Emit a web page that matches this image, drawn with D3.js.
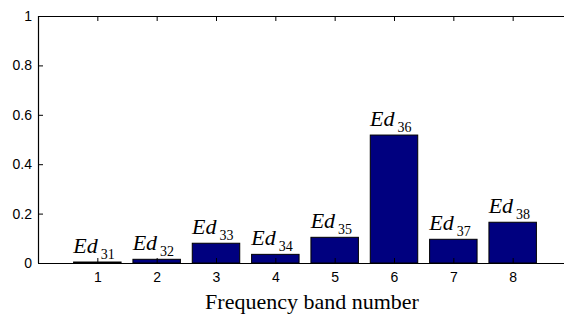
<!DOCTYPE html>
<html lang="en">
<head>
<meta charset="UTF-8">
<title>Frequency band energy</title>
<script src="https://d3js.org/d3.v7.min.js"></script>
<style>
    body{ margin:0; background:#fff; }
    svg{ display:block; }
</style>
</head>
<body>
<svg id="chart" width="564" height="323"></svg>
<script>
    // data
    let bands = [1, 2, 3, 4, 5, 6, 7, 8]
    let energy = [0.004, 0.015, 0.080, 0.035, 0.104, 0.518, 0.096, 0.165]
    let subs = ["31", "32", "33", "34", "35", "36", "37", "38"]
    let yTicks = [0, 0.2, 0.4, 0.6, 0.8, 1]
    let yTickLabels = ["0", "0.2", "0.4", "0.6", "0.8", "1"]

    let sansFont = "'Liberation Sans', Arial, Helvetica, sans-serif"
    let serifFont = "'Liberation Serif', 'Times New Roman', Times, serif"

    let svg = d3.select("#chart")
    let mLeft = 38, mRight = 572, mTop = 16, mBottom = 263

    let x = d3.scaleLinear().domain([0, 9]).range([mLeft, mRight])
    let y = d3.scaleLinear().domain([0, 1]).range([mBottom, mTop])
    let bw = 0.8 * (x(1) - x(0))

    // bars
    svg.selectAll(".bar")
        .data(bands)
        .enter()
        .append("rect")
        .attr("class", "bar")
        .attr("x", function (d){ return x(d) - bw / 2 })
        .attr("y", function (d, i){ return y(energy[i]) })
        .attr("width", bw)
        .attr("height", function (d, i){ return y(0) - y(energy[i]) })
        .attr("fill", "#00007f")
        .attr("stroke", "#000")
        .attr("stroke-width", 1)

    // axes, matlab style ticks pointing inward
    let xAxis = d3.axisBottom(x).tickValues(bands).tickSize(-5).tickPadding(9)
    let yAxis = d3.axisLeft(y).tickValues(yTicks).tickSize(-5).tickPadding(6)
        .tickFormat(function (d, i){ return yTickLabels[i] })

    let gx = svg.append("g").attr("transform", `translate(0,${mBottom})`).call(xAxis)
    let gy = svg.append("g").attr("transform", `translate(${mLeft},0)`).call(yAxis)
    let gt = svg.append("g").attr("transform", `translate(0,${mTop})`)
        .call(d3.axisTop(x).tickValues(bands).tickSize(-5).tickFormat(""))

    ;[gx, gy, gt].forEach(function (g){
        g.attr("font-family", sansFont).attr("font-size", 14)
        g.select(".domain").attr("stroke", "#000").attr("stroke-width", 1.2)
        g.selectAll(".tick line").attr("stroke", "#000")
        g.selectAll(".tick text").attr("fill", "#000")
    })
    gx.select(".domain").attr("d", `M${mLeft},0.5H${mRight}`)
    gt.select(".domain").attr("d", `M${mLeft},0.5H${mRight}`)
    gy.select(".domain").attr("d", `M0.5,${mBottom}V${mTop}`)

    // Ed labels above bars
    let labels = svg.selectAll(".edlabel")
        .data(bands)
        .enter()
        .append("text")
        .attr("font-family", serifFont)
        .attr("x", function (d){ return x(d) - 24 })
        .attr("y", function (d, i){ return y(energy[i]) - 9 })
    labels.append("tspan").attr("font-style", "italic").attr("font-size", 22).text("Ed")
    labels.append("tspan").attr("font-size", 14).attr("dx", 3).attr("dy", 6)
        .text(function (d, i){ return subs[i] })

    // x label
    svg.append("text")
        .attr("font-family", serifFont)
        .attr("x", 312)
        .attr("y", 309)
        .attr("text-anchor", "middle")
        .attr("font-size", 22)
        .text("Frequency band number")
</script>
</body>
</html>
